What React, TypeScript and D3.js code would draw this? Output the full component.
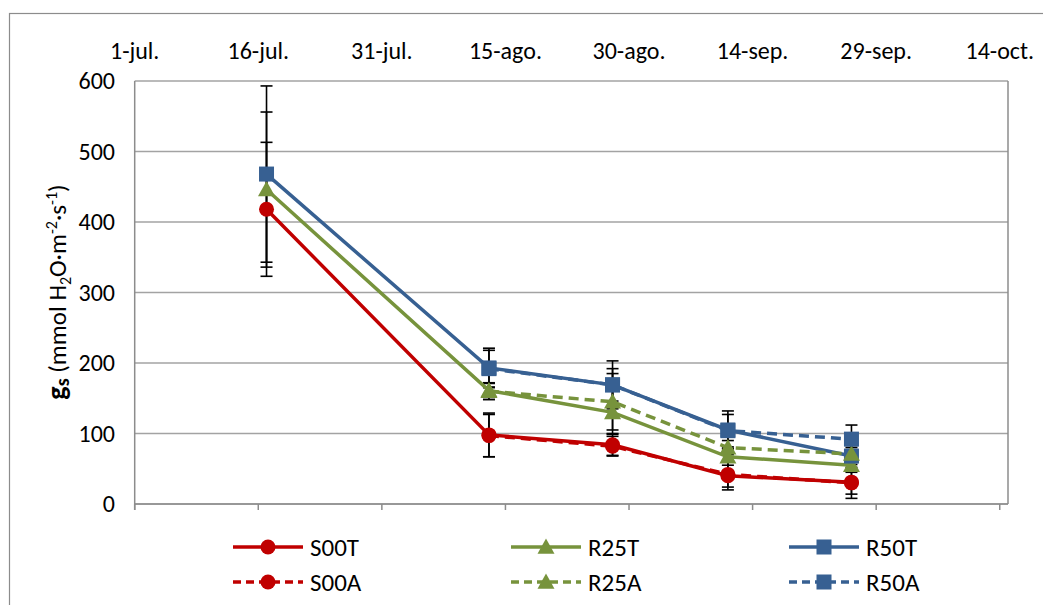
import React from "react";
import * as d3 from "d3";

const dates = ["2012-07-17", "2012-08-13", "2012-08-28", "2012-09-11", "2012-09-26"];
const tickDates = ["2012-07-01", "2012-07-16", "2012-07-31", "2012-08-15", "2012-08-30", "2012-09-14", "2012-09-29", "2012-10-14"];
const tickLabels = ["1-jul.", "16-jul.", "31-jul.", "15-ago.", "30-ago.", "14-sep.", "29-sep.", "14-oct."];
const yTicks = [0, 100, 200, 300, 400, 500, 600];

const S00T = [418, 98, 84, 40, 31];
const S00T_err = [95, 31, 15, 20, 17];
const R25T = [446, 161, 130, 67, 55];
const R25T_err = [110, 10, 30, 12, 10];
const R50T = [468, 193, 169, 105, 68];
const R50T_err = [125, 28, 34, 27, 12];
const S00A = [null, 97, 82, 42, 30];
const S00A_err = [null, 30, 14, 18, 22];
const R25A = [null, 160, 145, 80, 71];
const R25A_err = [null, 12, 40, 10, 12];
const R50A = [null, 192, 169, 104, 92];
const R50A_err = [null, 26, 23, 23, 20];

const RED = "#C00000";
const GREEN = "#77933C";
const BLUE = "#376092";

type Series = { name: string; values: (number | null)[]; errs: (number | null)[]; color: string; dashed: boolean; marker: string };

const series: Series[] = [
  { name: "S00T", values: S00T, errs: S00T_err, color: RED, dashed: false, marker: "circle" },
  { name: "R25T", values: R25T, errs: R25T_err, color: GREEN, dashed: false, marker: "triangle" },
  { name: "R50T", values: R50T, errs: R50T_err, color: BLUE, dashed: false, marker: "square" },
  { name: "S00A", values: S00A, errs: S00A_err, color: RED, dashed: true, marker: "circle" },
  { name: "R25A", values: R25A, errs: R25A_err, color: GREEN, dashed: true, marker: "triangle" },
  { name: "R50A", values: R50A, errs: R50A_err, color: BLUE, dashed: true, marker: "square" },
];

const FONT = "Carlito, Lato, 'Open Sans', sans-serif";
const parse = d3.timeParse("%Y-%m-%d");

function Marker({ type, x, y, color }: { type: string; x: number; y: number; color: string }) {
  if (type === "circle") return <circle cx={x} cy={y} r={7.5} fill={color} />;
  if (type === "square") return <rect x={x - 7.5} y={y - 7.5} width={15} height={15} fill={color} />;
  const s = 8.5;
  return <path d={`M${x},${y - s}L${x + s},${y + s * 0.8}L${x - s},${y + s * 0.8}Z`} fill={color} />;
}

export default function App() {
  const left = 134.7, right = 1008, top = 81, bottom = 504;
  const x = d3.scaleTime().domain([parse("2012-07-01")!, parse("2012-10-15")!]).range([left, right]);
  const y = d3.scaleLinear().domain([0, 600]).range([bottom, top]);
  const xd = dates.map((d) => x(parse(d)!));

  const lineGen = d3
    .line<[number, number | null]>()
    .defined((d) => d[1] !== null)
    .x((d) => d[0])
    .y((d) => y(d[1] as number));

  const legendCols = [233, 511, 789];
  const legendRows = [547, 582];

  return (
    <svg width={1043} height={605} style={{ position: "absolute", left: 0, top: 0, background: "#fff" }} fontFamily={FONT}>
      <rect x={9.5} y={13.5} width={1100} height={700} fill="#fff" stroke="#8c8c8c" strokeWidth={1.2} />
      {yTicks.map((t) => (
        <line key={t} x1={left} x2={right} y1={y(t)} y2={y(t)} stroke="#a3a3a3" strokeWidth={1.5} />
      ))}
      <line x1={right} x2={right} y1={top} y2={bottom} stroke="#8c8c8c" strokeWidth={1.5} />
      <line x1={left} x2={left} y1={top} y2={bottom + 6} stroke="#8c8c8c" strokeWidth={1.5} />
      <line x1={left} x2={right} y1={bottom} y2={bottom} stroke="#8c8c8c" strokeWidth={1.5} />
      {tickDates.map((d) => (
        <line key={d} x1={x(parse(d)!)} x2={x(parse(d)!)} y1={bottom} y2={bottom + 6} stroke="#8c8c8c" strokeWidth={1.5} />
      ))}
      {tickDates.map((d, i) => (
        <text key={d} x={x(parse(d)!)} y={59} textAnchor="middle" fontSize={24} fill="#000">
          {tickLabels[i]}
        </text>
      ))}
      {yTicks.map((t) => (
        <text key={t} x={115} y={y(t) + 8} textAnchor="end" fontSize={24} fill="#000">
          {t}
        </text>
      ))}
      <text transform={`translate(66,292) rotate(-90)`} textAnchor="middle" fontSize={25} fill="#000">
        <tspan fontWeight="bold" fontSize={28}>g</tspan>
        <tspan fontWeight="bold" fontSize={20} dy={3}>s</tspan>
        <tspan dy={-3}> (mmol H</tspan>
        <tspan fontSize={16} dy={5}>2</tspan>
        <tspan dy={-5}>O·m</tspan>
        <tspan fontSize={16} dy={-9}>-2</tspan>
        <tspan dy={9}>·s</tspan>
        <tspan fontSize={16} dy={-9}>-1</tspan>
        <tspan dy={9}>)</tspan>
      </text>
      {series.map((s) =>
        s.values.map((v, i) => {
          const e = s.errs[i];
          if (v === null || e === null) return null;
          const cx = xd[i];
          return (
            <g key={s.name + i} stroke="#000" strokeWidth={1.6}>
              <line x1={cx} x2={cx} y1={y(v + e)} y2={y(v - e)} />
              <line x1={cx - 6} x2={cx + 6} y1={y(v + e)} y2={y(v + e)} />
              <line x1={cx - 6} x2={cx + 6} y1={y(v - e)} y2={y(v - e)} />
            </g>
          );
        })
      )}
      {series.map((s) => (
        <path
          key={s.name}
          d={lineGen(s.values.map((v, i) => [xd[i], v] as [number, number | null])) || ""}
          fill="none"
          stroke={s.color}
          strokeWidth={3.5}
          strokeDasharray={s.dashed ? "10,6" : undefined}
        />
      ))}
      {series.map((s) =>
        s.values.map((v, i) =>
          v === null ? null : <Marker key={s.name + "m" + i} type={s.marker} x={xd[i]} y={y(v)} color={s.color} />
        )
      )}
      {series.map((s, k) => {
        const lx = legendCols[k % 3];
        const ly = legendRows[Math.floor(k / 3)];
        return (
          <g key={s.name + "leg"}>
            <line x1={lx} x2={lx + 70} y1={ly} y2={ly} stroke={s.color} strokeWidth={3.5} strokeDasharray={s.dashed ? "8,5" : undefined} />
            <Marker type={s.marker} x={lx + 35} y={ly} color={s.color} />
            <text x={lx + 77} y={ly + 9} fontSize={25} fill="#000">
              {s.name}
            </text>
          </g>
        );
      })}
    </svg>
  );
}
